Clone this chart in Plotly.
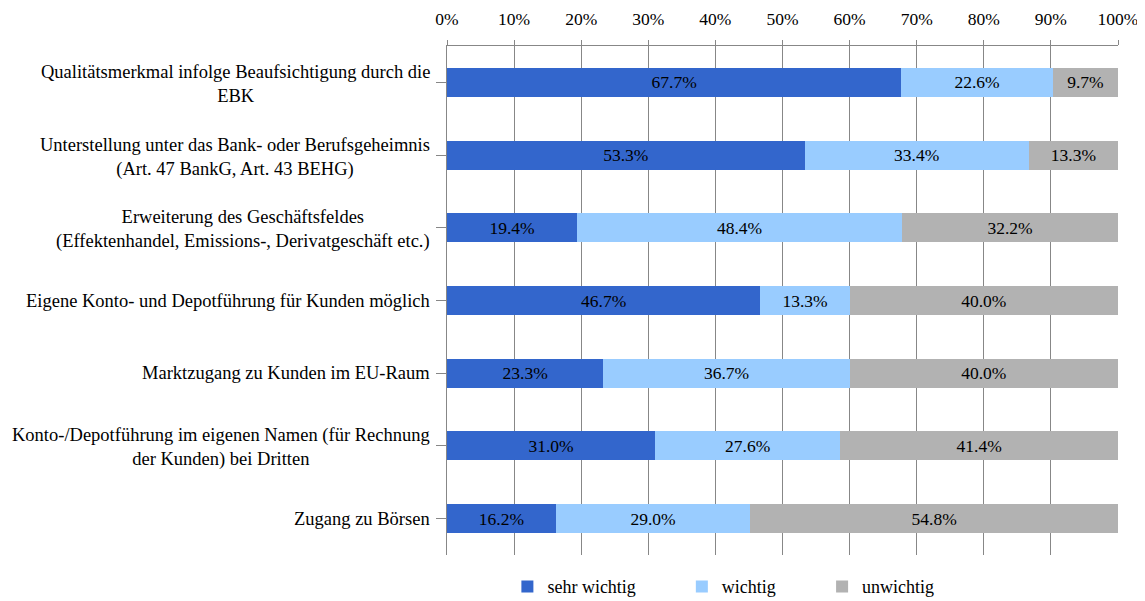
import plotly.graph_objects as go

categories = [
    "Qualitätsmerkmal infolge Beaufsichtigung durch die<br>EBK",
    "Unterstellung unter das Bank- oder Berufsgeheimnis<br>(Art. 47 BankG, Art. 43 BEHG)",
    "Erweiterung des Geschäftsfeldes<br>(Effektenhandel, Emissions-, Derivatgeschäft etc.)",
    "Eigene Konto- und Depotführung für Kunden möglich",
    "Marktzugang zu Kunden im EU-Raum",
    "Konto-/Depotführung im eigenen Namen (für Rechnung<br>der Kunden) bei Dritten",
    "Zugang zu Börsen",
]
sehr_wichtig = [67.7, 53.3, 19.4, 46.7, 23.3, 31.0, 16.2]
wichtig = [22.6, 33.4, 48.4, 13.3, 36.7, 27.6, 29.0]
unwichtig = [9.7, 13.3, 32.2, 40.0, 40.0, 41.4, 54.8]
series_names = ["sehr wichtig", "wichtig", "unwichtig"]
colors = ["#3366CC", "#99CCFF", "#B2B2B2"]

FONT = "Liberation Serif, Times New Roman, serif"
ids = list(range(len(categories)))
legend_ids = ["legend", "legend2", "legend3"]
legend_x = [0.090, 0.350, 0.559]

fig = go.Figure()
for name, vals, col, lid in zip(series_names, [sehr_wichtig, wichtig, unwichtig], colors, legend_ids):
    fig.add_trace(go.Bar(
        y=ids, x=vals, name=name, orientation="h", legend=lid, showlegend=True,
        marker=dict(color=col, line=dict(width=0)),
        text=[f"{v:.1f}%" for v in vals], textposition="inside",
        insidetextanchor="middle", textangle=0,
        textfont=dict(family=FONT, size=17.5, color="black"),
        hoverinfo="skip",
    ))

for i, c in enumerate(categories):
    multi = "<br>" in c
    fig.add_annotation(x=0, xref="paper", y=i, yref="y", text=c,
                       xanchor="right", yanchor="middle", align="center",
                       showarrow=False, xshift=-15, yshift=-2 if multi else 0,
                       font=dict(family=FONT, size=18.5, color="black"))

leg_common = dict(orientation="h", yref="container", y=0.037, yanchor="middle",
                  xanchor="left", bgcolor="rgba(0,0,0,0)", visible=True, itemwidth=30,
                  font=dict(family=FONT, size=18, color="black"))

fig.update_layout(
    barmode="stack", bargap=0.6, showlegend=True,
    width=1145, height=601,
    margin=dict(l=439, r=35, t=38, b=54, autoexpand=False),
    paper_bgcolor="white", plot_bgcolor="white",
    font=dict(family=FONT, size=15, color="black"),
    xaxis=dict(side="top", range=[0, 100], dtick=10, ticksuffix="%",
               showgrid=True, gridcolor="#878787", gridwidth=1,
               ticks="outside", ticklen=5, tickcolor="#878787",
               ticklabelstandoff=8, automargin=False,
               showline=True, linecolor="#878787", zeroline=False,
               tickfont=dict(family=FONT, size=17.5, color="black")),
    yaxis=dict(range=[6.5, -0.5], tickvals=ids, showticklabels=False,
               tickson="boundaries", ticks="outside", ticklen=10, tickcolor="#878787",
               showline=True, linecolor="#878787", showgrid=False, zeroline=False,
               automargin=False),
    legend=dict(x=legend_x[0], **leg_common),
    legend2=dict(x=legend_x[1], **leg_common),
    legend3=dict(x=legend_x[2], **leg_common),
)

fig.write_html("out.html")
